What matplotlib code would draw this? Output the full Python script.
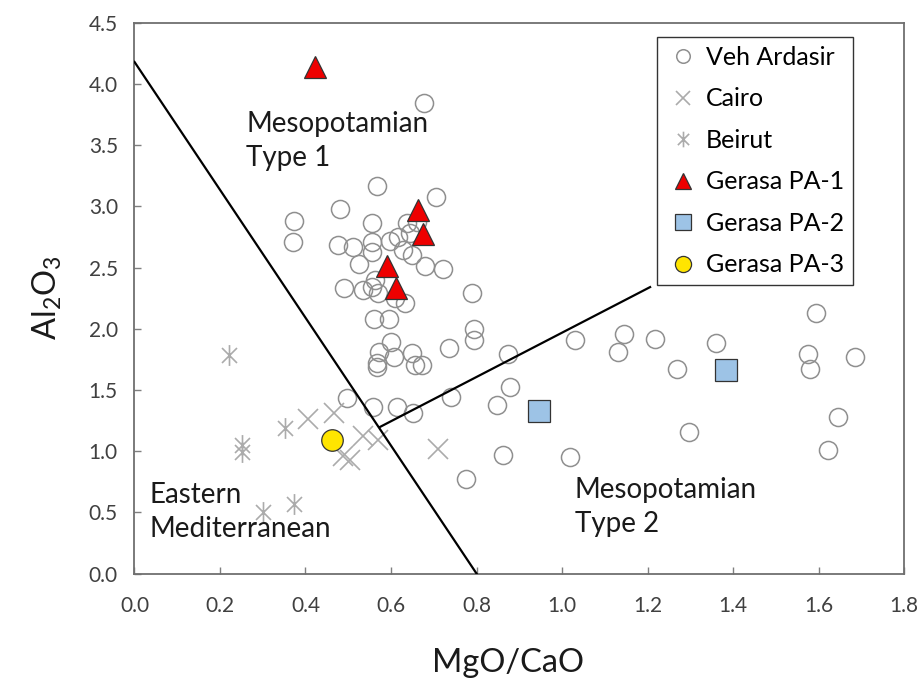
import matplotlib
matplotlib.use("Agg")
import matplotlib.pyplot as plt
from matplotlib.path import Path

plt.rcParams["font.family"] = ["Lato", "DejaVu Sans"]

# Veh Ardasir glass (MgO/CaO, Al2O3)
veh_x = [0.677, 0.567, 0.373, 0.481, 0.705, 0.371, 0.555, 0.475, 0.512, 0.555,
         0.555, 0.598, 0.617, 0.637, 0.644, 0.660, 0.629, 0.648, 0.526, 0.680,
         0.722, 0.490, 0.535, 0.555, 0.570, 0.563, 0.609, 0.633, 0.789, 0.560,
         0.596, 0.794, 0.794, 0.736, 0.599, 0.573, 0.607, 0.648, 0.567, 0.567,
         0.656, 0.672, 0.874, 0.496, 0.559, 0.613, 0.652, 0.740, 0.775, 1.030,
         1.145, 1.132, 1.218, 1.270, 1.359, 1.593, 1.575, 1.579, 1.686, 1.645,
         1.623, 1.296, 0.878, 0.849, 0.861, 1.019]
veh_y = [3.84, 3.17, 2.88, 2.98, 3.08, 2.71, 2.86, 2.68, 2.67, 2.71,
         2.63, 2.72, 2.75, 2.86, 2.78, 2.87, 2.64, 2.60, 2.53, 2.51,
         2.49, 2.33, 2.32, 2.34, 2.29, 2.40, 2.25, 2.21, 2.29, 2.08,
         2.08, 2.00, 1.91, 1.84, 1.89, 1.81, 1.77, 1.80, 1.72, 1.69,
         1.70, 1.70, 1.79, 1.43, 1.36, 1.36, 1.31, 1.44, 0.77, 1.91,
         1.96, 1.81, 1.92, 1.67, 1.88, 2.13, 1.79, 1.67, 1.77, 1.28,
         1.01, 1.16, 1.52, 1.38, 0.97, 0.95]

cairo_x = [0.407, 0.467, 0.535, 0.570, 0.488, 0.504, 0.711]
cairo_y = [1.26, 1.31, 1.12, 1.09, 0.96, 0.93, 1.02]

beirut_x = [0.222, 0.251, 0.251, 0.352, 0.301, 0.373]
beirut_y = [1.785, 1.05, 0.99, 1.19, 0.50, 0.57]

pa1_x = [0.423, 0.664, 0.676, 0.591, 0.612]
pa1_y = [4.14, 2.97, 2.77, 2.51, 2.33]

pa2_x = [0.946, 1.383]
pa2_y = [1.33, 1.66]

pa3_x = [0.463]
pa3_y = [1.09]

# group boundaries
div1_x = [0.0, 0.80]
div1_y = [4.18, 0.0]
div2_x = [0.574, 1.206]
div2_y = [1.197, 2.34]

# asterisk: vertical bar plus a cross
star = Path([(0, -1), (0, 1), (-0.72, -0.72), (0.72, 0.72), (-0.72, 0.72), (0.72, -0.72)],
            [Path.MOVETO, Path.LINETO, Path.MOVETO, Path.LINETO, Path.MOVETO, Path.LINETO])

fig = plt.figure(figsize=(9.21, 6.8), dpi=100)
ax = fig.add_axes([0.146, 0.1566, 0.8356, 0.81])

ax.plot(div1_x, div1_y, color="black", lw=1.6, zorder=3)
ax.plot(div2_x, div2_y, color="black", lw=1.6, zorder=3)

ax.plot(veh_x, veh_y, ls="none", marker="o", ms=13, mfc="none", mec="#8f8f8f",
        mew=1.1, label="Veh Ardasir")
ax.plot(cairo_x, cairo_y, ls="none", marker="x", ms=14, mec="#ababab",
        mew=1.2, label="Cairo")
ax.plot(beirut_x, beirut_y, ls="none", marker=star, ms=15, mfc="none", mec="#ababab",
        mew=1.2, label="Beirut")
ax.plot(pa1_x, pa1_y, ls="none", marker="^", ms=16, mfc="#ee0000", mec="#333333",
        mew=0.9, label="Gerasa PA-1", zorder=4)
ax.plot(pa2_x, pa2_y, ls="none", marker="s", ms=16, mfc="#9dc3e6", mec="#333333",
        mew=0.9, label="Gerasa PA-2", zorder=4)
ax.plot(pa3_x, pa3_y, ls="none", marker="o", ms=15.5, mfc="#ffe500", mec="#333333",
        mew=0.9, label="Gerasa PA-3", zorder=4)

region_style = dict(fontsize=20, va="top", ha="left", color="#1a1a1a", linespacing=1.38)
ax.text(0.261, 3.78, "Mesopotamian\nType 1", **region_style)
ax.text(0.036, 0.75, "Eastern\nMediterranean", **region_style)
ax.text(1.03, 0.79, "Mesopotamian\nType 2", **region_style)

ax.set_xlim(0, 1.8)
ax.set_ylim(0, 4.5)
ax.set_xticks([i * 0.2 for i in range(10)])
ax.set_yticks([i * 0.5 for i in range(10)])
ax.xaxis.set_major_formatter(matplotlib.ticker.FormatStrFormatter("%.1f"))
ax.yaxis.set_major_formatter(matplotlib.ticker.FormatStrFormatter("%.1f"))
ax.tick_params(direction="in", length=5, width=1, color="#7f7f7f",
               labelsize=15, labelcolor="#404040")
ax.tick_params(axis="x", pad=16)
ax.tick_params(axis="y", pad=12)
for sp in ax.spines.values():
    sp.set_color("#6f6f6f")
    sp.set_linewidth(1.3)

ax.set_xlabel("MgO/CaO", fontsize=23.5, color="#1a1a1a")
ax.xaxis.set_label_coords(0.485, -0.135)
ax.set_ylabel(r"Al$_\mathregular{2}$O$_\mathregular{3}$", fontsize=23.5,
              color="#1a1a1a", labelpad=18)

leg = ax.legend(loc="upper left", bbox_to_anchor=(0.679, 0.974), borderaxespad=0,
                fancybox=False, edgecolor="#333333", fontsize=18, labelspacing=0.74,
                handlelength=1.4, handletextpad=0.2, borderpad=0.35, markerscale=0.75,
                framealpha=1)
leg.get_frame().set_linewidth(1.0)

fig.savefig("out.png", dpi=100)
